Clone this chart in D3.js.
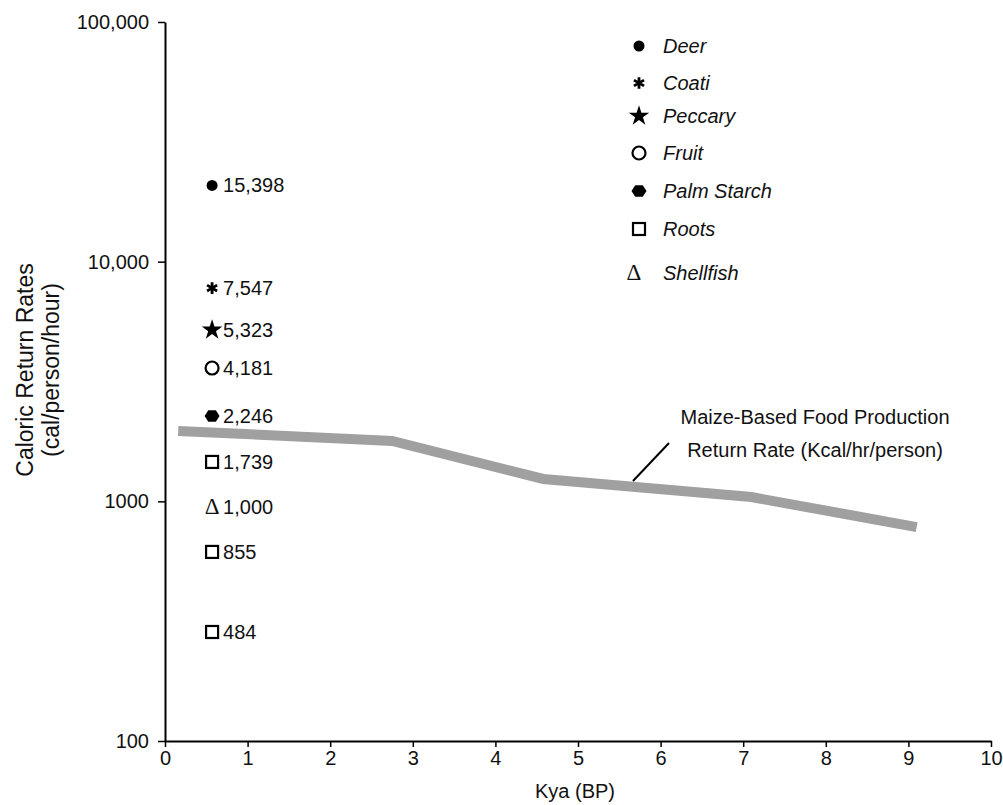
<!DOCTYPE html>
<html>
<head>
<meta charset="utf-8">
<script src="https://cdn.jsdelivr.net/npm/d3@7"></script>
<style>
  body { margin: 0; background: #fff; }
  text { font-family: "Liberation Sans", Arial, Helvetica, sans-serif; fill: #111; }
</style>
</head>
<body>
<svg id="chart" width="1003" height="805"></svg>
<script>
// food categories, legend order
var categories = ["Deer", "Coati", "Peccary", "Fruit", "Palm Starch", "Roots", "Shellfish"];

// points as they sit on the log axis, with their printed labels
var pointCats   = ["Deer", "Coati", "Peccary", "Fruit", "Palm Starch", "Roots", "Shellfish", "Roots", "Roots"];
var pointKya    = [0.57, 0.57, 0.57, 0.57, 0.57, 0.57, 0.57, 0.57, 0.57];
var pointValues = [20800, 7760, 5190, 3600, 2270, 1460, 946, 615, 285];
var pointLabels = ["15,398", "7,547", "5,323", "4,181", "2,246", "1,739", "1,000", "855", "484"];

// maize-based food production return rate
var maizeKya    = [0.16, 2.75, 4.58, 7.1, 9.1];
var maizeValues = [1966, 1786, 1240, 1042, 781];

var xTicks = [0, 1, 2, 3, 4, 5, 6, 7, 8, 9, 10];
var yTicks = [100, 1000, 10000, 100000];
var yTickLabels = ["100", "1000", "10,000", "100,000"];

var svg = d3.select("#chart");

var x = d3.scaleLinear().domain([0, 10]).range([165, 991]);
var y = d3.scaleLog().domain([100, 100000]).range([741, 22]);

// axes
var yAxis = d3.axisLeft(y).tickValues(yTicks)
    .tickFormat(function(d, i){ return yTickLabels[i]; })
    .tickSize(7).tickSizeOuter(0).tickPadding(9);
var gy = svg.append("g").attr("transform", "translate(165,0)").call(yAxis);

var xAxis = d3.axisBottom(x).tickValues(xTicks)
    .tickSize(6).tickSizeOuter(0).tickPadding(4);
var gx = svg.append("g").attr("transform", "translate(0,741)").call(xAxis);

[gx, gy].forEach(function(g){
    g.select(".domain").attr("stroke", "#000").attr("stroke-width", 2);
    g.selectAll(".tick line").attr("stroke", "#000").attr("stroke-width", 1.5);
    g.selectAll(".tick text").attr("font-size", 20).attr("fill", "#111")
        .style("font-family", '"Liberation Sans", Arial, sans-serif');
});

// axis titles
svg.append("text").attr("x", 575).attr("y", 798)
    .attr("text-anchor", "middle").attr("font-size", 20).text("Kya (BP)");

var yt = svg.append("text").attr("transform", "translate(0,370) rotate(-90)")
    .attr("text-anchor", "middle").attr("font-size", 23);
yt.append("tspan").attr("x", 0).attr("y", 33).text("Caloric Return Rates");
yt.append("tspan").attr("x", 0).attr("y", 59).text("(cal/person/hour)");

// maize line
var line = d3.line()
    .x(function(d, i){ return x(maizeKya[i]); })
    .y(function(d){ return y(d); });
svg.append("path").datum(maizeValues)
    .attr("d", line)
    .attr("fill", "none")
    .attr("stroke", "#a0a0a0")
    .attr("stroke-width", 10)
    .attr("stroke-linejoin", "miter");

// annotation
svg.append("line").attr("x1", 633).attr("y1", 481).attr("x2", 669).attr("y2", 443)
    .attr("stroke", "#000").attr("stroke-width", 2);
svg.append("text").attr("x", 815).attr("y", 424).attr("text-anchor", "middle")
    .attr("font-size", 20).text("Maize-Based Food Production");
svg.append("text").attr("x", 815).attr("y", 457).attr("text-anchor", "middle")
    .attr("font-size", 20).text("Return Rate (Kcal/hr/person)");

// marker drawing
function hexPath(r){
    var pts = [];
    for (var k = 0; k < 6; k++){
        var a = Math.PI / 3 * k;
        pts.push([r * Math.cos(a), r * 0.9 * Math.sin(a)]);
    }
    return "M" + pts.join("L") + "Z";
}

function drawMarker(g, cat){
    if (cat == "Deer"){
        g.append("circle").attr("r", 5.5).attr("fill", "#000");
    } else if (cat == "Coati"){
        g.append("path").attr("d", d3.symbol(d3.symbolAsterisk, 95)())
            .attr("stroke", "#000").attr("stroke-width", 2.8).attr("fill", "none");
    } else if (cat == "Peccary"){
        g.append("path").attr("d", d3.symbol(d3.symbolStar, 130)()).attr("fill", "#000");
    } else if (cat == "Fruit"){
        g.append("circle").attr("r", 6.5).attr("fill", "#fff")
            .attr("stroke", "#000").attr("stroke-width", 2.2);
    } else if (cat == "Palm Starch"){
        g.append("path").attr("d", hexPath(7.5)).attr("fill", "#000");
    } else if (cat == "Roots"){
        g.append("rect").attr("x", -6).attr("y", -6).attr("width", 12).attr("height", 12)
            .attr("fill", "#fff").attr("stroke", "#000").attr("stroke-width", 2.2);
    } else if (cat == "Shellfish"){
        g.append("text").attr("text-anchor", "middle").attr("y", 7)
            .attr("font-size", 23)
            .style("font-family", '"Liberation Serif", "DejaVu Serif", serif')
            .text("\u0394");
    }
}

// data points
var pts = svg.append("g").selectAll("g").data(pointValues).join("g")
    .attr("transform", function(d, i){ return "translate(" + x(pointKya[i]) + "," + y(d) + ")"; });
pts.each(function(d, i){ drawMarker(d3.select(this), pointCats[i]); });
pts.append("text").attr("x", 11).attr("y", 7).attr("font-size", 20)
    .text(function(d, i){ return pointLabels[i]; });

// legend
var legendY = [46, 83, 116, 153, 191, 229, 273];
var leg = svg.append("g").selectAll("g").data(categories).join("g")
    .attr("transform", function(d, i){ return "translate(639," + legendY[i] + ")"; });
leg.each(function(d){ drawMarker(d3.select(this), d); });
leg.select("text").attr("x", -5);
leg.append("text").attr("x", 24).attr("y", 7).attr("font-size", 20)
    .attr("font-style", "italic").text(function(d){ return d; });
</script>
</body>
</html>
